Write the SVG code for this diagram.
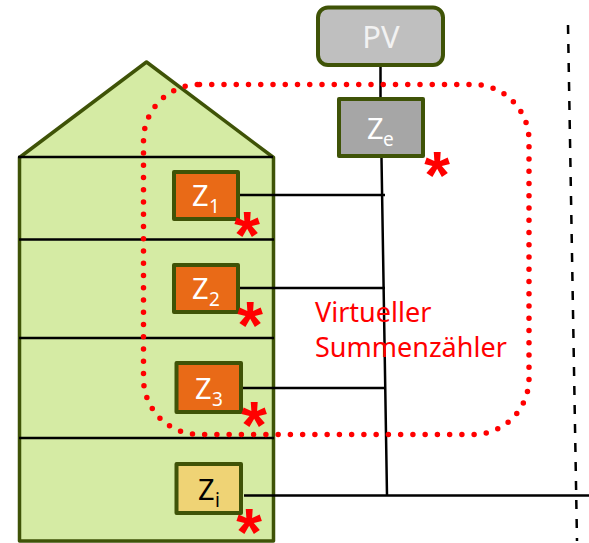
<svg xmlns="http://www.w3.org/2000/svg" width="589" height="543" viewBox="0 0 589 543">
<style>
text{font-family:"Noto Sans","Open Sans","Liberation Sans",sans-serif}
.box{stroke:#3f5307;stroke-width:4;stroke-linejoin:round}
.wall{fill:#d5eba4;stroke:#3f5307;stroke-width:3.5;stroke-linejoin:round}
.line{stroke:#000;stroke-width:2.5;fill:none}
.lbl{font-size:29px;fill:#fff}
.sub{font-size:19px;fill:#fff}
.star{font-family:"Liberation Sans",sans-serif;font-weight:bold;font-size:66px;fill:#f00;text-anchor:middle}
.red{font-size:27px;fill:#f00}
</style>
<g id="house">
<path class="wall" d="M19.500 157.500L146.500 62L273.500 157.500V541H19.500Z"/>
<path class="line" d="M18 157H273M19 239.500H274M19 338H274M19 438H274"/>
</g>
<g id="connectors">
<path class="line" d="M380.500 66V98M381.500 158L387 495M240 195H385M240 288H385M242 388H386M244 495.500H589"/>
<path d="M568 25L577 541" fill="none" stroke="#000" stroke-width="2.500" stroke-dasharray="9 10"/>
</g>
<g id="pv"><rect class="box" x="318" y="7.500" width="125" height="57.500" rx="10" fill="#bfbfbf"/><text x="381" y="48" text-anchor="middle" style="font-size:31px;fill:#f2f2f2">PV</text></g>
<g id="ze"><rect class="box" x="339" y="99" width="84" height="57" fill="#a6a6a6"/><text class="lbl" x="367" y="139">Z</text><text class="sub" x="383" y="146">e</text></g>
<g id="z1"><rect class="box" x="174" y="172" width="64" height="47" fill="#e96a17"/><text class="lbl" x="192" y="206">Z</text><text class="sub" x="209" y="213">1</text></g>
<g id="z2"><rect class="box" x="174" y="265" width="64" height="47" fill="#e96a17"/><text class="lbl" x="192" y="299">Z</text><text class="sub" x="209" y="306">2</text></g>
<g id="z3"><rect class="box" x="176.500" y="363" width="64.500" height="49" fill="#e96a17"/><text class="lbl" x="195" y="399">Z</text><text class="sub" x="212" y="406">3</text></g>
<g id="zi"><rect class="box" x="176.500" y="464" width="64.500" height="49" fill="#efd375"/><text class="lbl" x="198" y="500" style="fill:#000">Z</text><text class="sub" x="215" y="507" style="fill:#000">i</text></g>
<g id="virtual-meter">
<rect x="143.500" y="84.500" width="385.500" height="350" rx="56" fill="none" stroke="#f00" stroke-width="5.500" stroke-linecap="round" stroke-dasharray="0 12.250"/>
<text class="red" x="315" y="322">Virtueller</text>
<text class="red" x="315" y="357">Summenzähler</text>
</g>
<g id="stars">
<text class="star" x="437" y="198">*</text>
<text class="star" x="247" y="258">*</text>
<text class="star" x="250" y="348">*</text>
<text class="star" x="254" y="448">*</text>
<text class="star" x="249" y="555">*</text>
</g>
</svg>
